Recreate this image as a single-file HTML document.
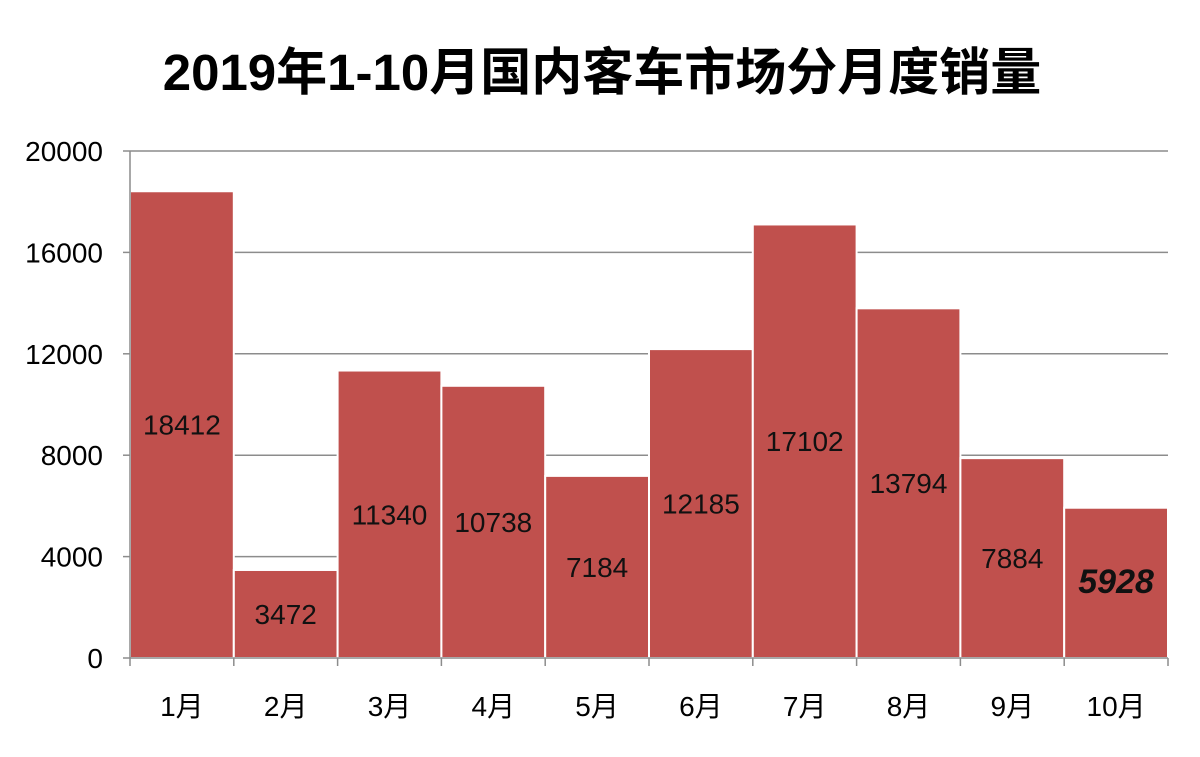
<!DOCTYPE html>
<html><head><meta charset="utf-8"><style>
body{margin:0;background:#fff;width:1200px;height:752px;overflow:hidden}
svg text{font-family:"Liberation Sans","Noto Sans CJK SC",sans-serif}
</style></head><body>
<svg id="chart" width="1200" height="752">
<text x="602" y="90" text-anchor="middle" font-size="51" font-weight="bold" fill="#000">2019年1-10月国内客车市场分月度销量</text>
<g id="grid"></g><g id="bars"></g><g id="axes"></g>
</svg>
<script>
const categories=["1月","2月","3月","4月","5月","6月","7月","8月","9月","10月"];
const sales=[18412,3472,11340,10738,7184,12185,17102,13794,7884,5928];
const yTicks=[0,4000,8000,12000,16000,20000];
const L=130,R=1168,T=151,B=658,YMAX=20000;
const ns="http://www.w3.org/2000/svg";
const y=v=>B-(v/YMAX)*(B-T);
const bw=(R-L)/categories.length;
const x=i=>L+i*bw;
function mk(tag,attrs,parent,text){const e=document.createElementNS(ns,tag);for(const k in attrs)e.setAttribute(k,attrs[k]);if(text!==undefined)e.textContent=text;document.getElementById(parent).appendChild(e);return e;}
yTicks.forEach(t=>{
  if(t>0){const g=mk('line',{x1:L,x2:R,y1:y(t),y2:y(t),stroke:'#8c8c8c','stroke-width':1.5},'grid');
  
  }
  const tk=mk('line',{x1:L-7,x2:L,y1:y(t),y2:y(t),stroke:'#8c8c8c','stroke-width':1.5},'axes');
  
  
  const lb=mk('text',{x:103,y:y(t)+10,'text-anchor':'end','font-size':28,fill:'#000'},'axes',String(t));
  
  
});
sales.forEach((v,i)=>{
  const r=mk('rect',{x:x(i),y:y(v),width:bw,height:B-y(v),fill:'#c0504d',stroke:'#fff','stroke-width':2},'bars');
  
  
  const last=i===sales.length-1;
  const t=mk('text',{x:x(i)+bw/2,y:(y(v)+B)/2+10,'text-anchor':'middle','font-size':last?34:28,'font-weight':last?'bold':'normal','font-style':last?'italic':'normal',fill:'#111'},'bars',String(v));
  
  
  const c=mk('text',{x:x(i)+bw/2,y:716,'text-anchor':'middle','font-size':28,fill:'#000'},'axes',categories[i]);
  
  
});
for(let i=0;i<=categories.length;i++){
  const tk=mk('line',{x1:x(i),x2:x(i),y1:B,y2:B+8,stroke:'#8c8c8c','stroke-width':1.5},'axes');
  
  
}
const xa=mk('line',{x1:L,x2:R,y1:B,y2:B,stroke:'#8c8c8c','stroke-width':1.5},'axes');


const ya=mk('line',{x1:L,x2:L,y1:T,y2:B,stroke:'#8c8c8c','stroke-width':1.5},'axes');


</script>
</body></html>
